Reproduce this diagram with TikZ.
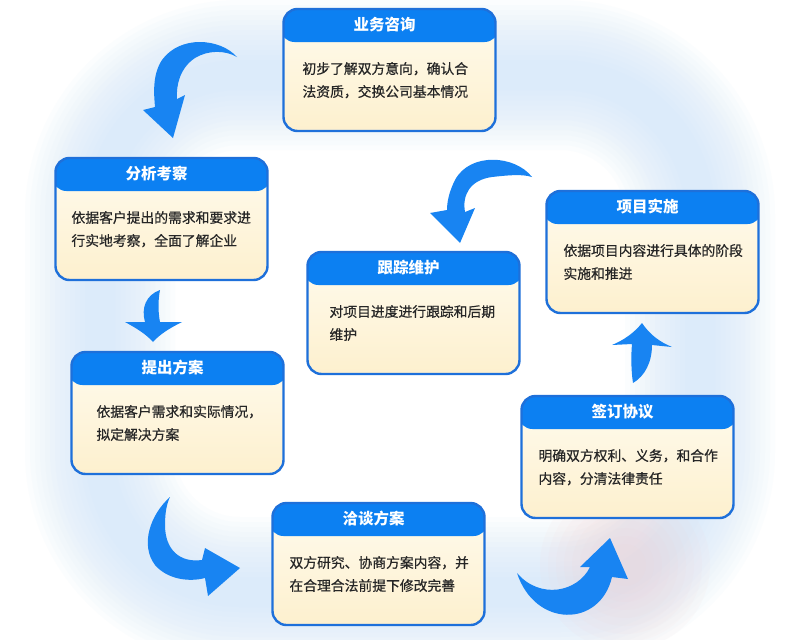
\documentclass[tikz,border=0pt]{standalone}
\usepackage{fontspec}
\setmainfont{Noto Sans CJK SC}
\newfontfamily\bodyfont{Noto Sans CJK SC}[FakeBold=0.6]
\usetikzlibrary{calc}
\definecolor{hdrblue}{RGB}{12,128,242}
\definecolor{edgeblue}{RGB}{30,112,218}
\definecolor{arrblue}{RGB}{24,132,242}
\definecolor{creamtop}{RGB}{255,251,238}
\definecolor{creambot}{RGB}{253,240,206}
\definecolor{ringblue}{RGB}{196,224,250}
\definecolor{blushpink}{RGB}{246,208,208}
\definecolor{bodytext}{RGB}{38,38,38}
\tikzset{
  stepbox/.style={draw=edgeblue, line width=2.4pt, rounded corners=14pt,
    minimum width=212pt, minimum height=122pt, inner sep=0pt,
    top color=creamtop, bottom color=creambot,
    path picture={\fill[hdrblue] ($(path picture bounding box.north west)+(-3pt,3pt)$)
      rectangle ($(path picture bounding box.north east)+(3pt,-33pt)$);}},
  titletext/.style={text=white, font=\bfseries\fontsize{15.5pt}{16pt}\selectfont, inner sep=0pt},
  bodyline/.style={text=bodytext, font=\bodyfont\fontsize{13.8pt}{16pt}\selectfont, anchor=base west, inner sep=0pt},
  flowarrow/.style={fill=arrblue, draw=none},
}
\begin{document}
\begin{tikzpicture}[x=1pt,y=-1pt]
\useasboundingbox (0,0) rectangle (801,640);
\fill[white] (0,0) rectangle (801,640);
% soft background ring
\foreach \w in {150,140,130,120,110,100,90,80,70,60,50,40,30}{
  \draw[ringblue, line width=\w pt, opacity=0.055, rounded corners=140pt] (100,75) rectangle (700,592);
}
% soft pink blob
\foreach \r in {85,77,69,61,53,45,37,29,21}{
  \fill[blushpink, opacity=0.07] (625,565) circle (\r pt);
}
% boxes
\node[stepbox] (b1) at (389.5,70) {};
\node[stepbox] (b2) at (161.5,219) {};
\node[stepbox] (b3) at (177.5,413) {};
\node[stepbox] (b4) at (378.5,564) {};
\node[stepbox] (b5) at (627.5,457) {};
\node[stepbox] (b6) at (652.5,252) {};
\node[stepbox] (b7) at (413.5,313) {};
% titles
\node[titletext] (t1) at ($(b1.north)+(-5pt,-16.5pt)$) {业务咨询};
\node[titletext] (t2) at ($(b2.north)+(-5pt,-16.5pt)$) {分析考察};
\node[titletext] (t3) at ($(b3.north)+(-5pt,-16.5pt)$) {提出方案};
\node[titletext] (t4) at ($(b4.north)+(-5pt,-16.5pt)$) {洽谈方案};
\node[titletext] (t5) at ($(b5.north)+(-5pt,-16.5pt)$) {签订协议};
\node[titletext] (t6) at ($(b6.north)+(-5pt,-16.5pt)$) {项目实施};
\node[titletext] (t7) at ($(b7.north)+(-5pt,-16.5pt)$) {跟踪维护};
% body text
\node[bodyline] (b1a) at ($(b1.north west)+(20pt,-66pt)$) {初步了解双方意向，确认合};
\node[bodyline] (b1b) at ($(b1.north west)+(20pt,-89pt)$) {法资质，交换公司基本情况};
\node[bodyline] (b2a) at ($(b2.north west)+(17pt,-66pt)$) {依据客户提出的需求和要求进};
\node[bodyline] (b2b) at ($(b2.north west)+(17pt,-89pt)$) {行实地考察，全面了解企业};
\node[bodyline] (b3a) at ($(b3.north west)+(26pt,-66pt)$) {依据客户需求和实际情况，};
\node[bodyline] (b3b) at ($(b3.north west)+(26pt,-89pt)$) {拟定解决方案};
\node[bodyline] (b4a) at ($(b4.north west)+(18pt,-66pt)$) {双方研究、协商方案内容，并};
\node[bodyline] (b4b) at ($(b4.north west)+(18pt,-89pt)$) {在合理合法前提下修改完善};
\node[bodyline] (b5a) at ($(b5.north west)+(18pt,-66pt)$) {明确双方权利、义务，和合作};
\node[bodyline] (b5b) at ($(b5.north west)+(18pt,-89pt)$) {内容，分清法律责任};
\node[bodyline] (b6a) at ($(b6.north west)+(18pt,-66pt)$) {依据项目内容进行具体的阶段};
\node[bodyline] (b6b) at ($(b6.north west)+(18pt,-89pt)$) {实施和推进};
\node[bodyline] (b7a) at ($(b7.north west)+(23pt,-66pt)$) {对项目进度进行跟踪和后期};
\node[bodyline] (b7b) at ($(b7.north west)+(23pt,-89pt)$) {维护};
% arrows
% 业务咨询 -> 分析考察
\fill[flowarrow] (237,57) .. controls (220,38) and (180,35) .. (162,60)
  .. controls (152,75) and (154,95) .. (155,107) -- (143,110) -- (173,138) -- (185,95) -- (177,99)
  .. controls (176,85) and (180,68) .. (195,58) .. controls (208,50) and (225,50) .. (237,57) -- cycle;
% 分析考察 -> 提出方案
\fill[flowarrow] (160,290) .. controls (158,300) and (158,312) .. (160,322) -- (182,322)
  .. controls (170,328) and (160,334) .. (153,342) .. controls (146,334) and (136,328) .. (125,322)
  -- (145,322) .. controls (141,308) and (146,295) .. (160,290) -- cycle;
% 提出方案 -> 洽谈方案
\fill[flowarrow] (170,497) .. controls (150,515) and (140,545) .. (155,565)
  .. controls (168,580) and (190,582) .. (205,578) -- (208,596) -- (240,568) -- (205,548) -- (202,560)
  .. controls (180,563) and (165,550) .. (165,525) .. controls (165,512) and (167,503) .. (170,497) -- cycle;
% 洽谈方案 -> 签订协议
\fill[flowarrow] (517,573) .. controls (535,628) and (600,628) .. (612,577) -- (628,579) -- (610,538)
  -- (580,567) -- (590,567) .. controls (578,592) and (540,600) .. (517,573) -- cycle;
% 签订协议 -> 项目实施
\fill[flowarrow] (642,323) .. controls (650,335) and (660,342) .. (672,347) -- (652,345)
  .. controls (652,362) and (645,376) .. (633,383) .. controls (631,370) and (631,355) .. (632,344)
  -- (612,345) .. controls (624,340) and (634,333) .. (642,323) -- cycle;
% 项目实施 -> 跟踪维护
\fill[flowarrow] (532,177) .. controls (515,155) and (470,152) .. (455,180)
  .. controls (449,192) and (447,202) .. (447,210) -- (430,213) -- (460,243) -- (475,208) -- (465,212)
  .. controls (462,195) and (470,180) .. (492,177) .. controls (510,175) and (522,174) .. (532,177) -- cycle;
\end{tikzpicture}
\end{document}
